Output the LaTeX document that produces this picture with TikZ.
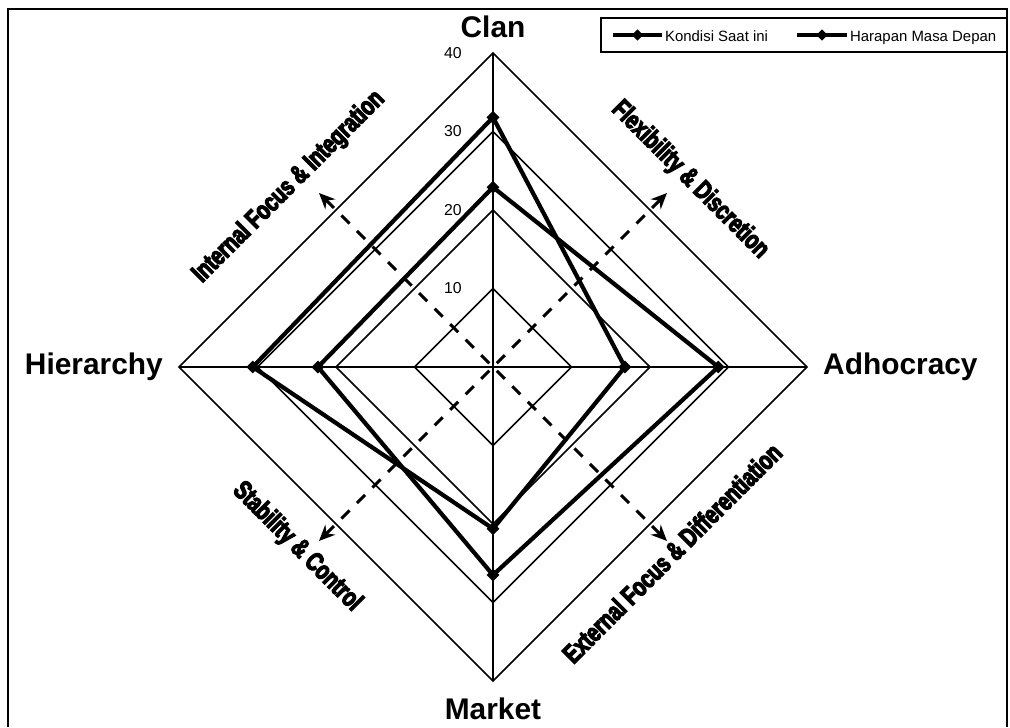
\documentclass[tikz,border=0pt]{standalone}
\usepackage{fontspec}
\setmainfont{Liberation Sans}
\newfontfamily\heavyfont{Liberation Sans}[FakeStretch=0.74,BoldFeatures={FakeBold=4.5}]
\usetikzlibrary{shapes,arrows.meta,positioning}
\tikzstyle{ringline} = [draw, line width=0.9pt]
\tikzstyle{series} = [draw, line width=2.4pt, line join=miter]
\tikzstyle{marker} = [diamond, fill=black, inner sep=0pt, minimum size=7.5pt]
\tikzstyle{axislabel} = [font=\bfseries\fontsize{17}{20}\selectfont]
\tikzstyle{ticklabel} = [anchor=east, font=\fontsize{9}{11}\selectfont]
\tikzstyle{focusarrow} = [draw, line width=1.8pt, dash pattern=on 6.5pt off 6pt,
  {Stealth[length=9pt,width=8pt]}-{Stealth[length=9pt,width=8pt]}]
\tikzstyle{focuslabel} = [font=\heavyfont\bfseries\fontsize{15}{17}\selectfont]
\tikzstyle{legendtext} = [anchor=west, font=\fontsize{8.5}{10}\selectfont, inner sep=1pt,
  text height=1.6ex, text depth=0.3ex]

\begin{document}
\begin{tikzpicture}

   \useasboundingbox (-9.86,-7.2) rectangle (10.34,7.34);
   \draw[line width=0.6pt] (-9.7,-7.2) -- (-9.7,7.16) -- (10.28,7.16) -- (10.28,-7.2);

   \coordinate (o) at (0,0);
   \coordinate (clanend) at (90:6.28);
   \coordinate (adhoend) at (0:6.28);
   \coordinate (marketend) at (-90:6.28);
   \coordinate (hierend) at (180:6.28);

   % Rings of the chart
   \foreach \r in {10,20,30,40}
      \draw[ringline] (90:{\r*0.157}) -- (0:{\r*0.157}) -- (-90:{\r*0.157})
         -- (180:{\r*0.157}) -- cycle;
   \draw[ringline] (clanend) -- (marketend);
   \draw[ringline] (hierend) -- (adhoend);

   \foreach \r in {10,20,30,40}
      \node[ticklabel] (tick\r) at (-0.5,{\r*0.157}) {\r};

   % Axis labels
   \node[axislabel] (clan) [above=0.18cm of clanend] {Clan};
   \node[axislabel] (adhocracy) [right=0.2cm of adhoend] {Adhocracy};
   \node[axislabel] (market) [below=0.22cm of marketend] {Market};
   \node[axislabel] (hierarchy) [left=0.2cm of hierend] {Hierarchy};

   %% Dashed arrows
   \coordinate (ifi) at (135:4.92);
   \coordinate (fd) at (45:4.92);
   \coordinate (sc) at (-135:4.92);
   \coordinate (efd) at (-45:4.92);
   \path[focusarrow] (sc) -- (fd);
   \path[focusarrow] (ifi) -- (efd);

   \node[focuslabel, rotate=45] (lifi) at (-4.08,3.6) {Internal Focus \& Integration};
   \node[focuslabel, rotate=-45] (lfd) at (3.94,3.74) {Flexibility \& Discretion};
   \node[focuslabel, rotate=-45] (lsc) at (-3.92,-3.6) {Stability \& Control};
   \node[focuslabel, rotate=45] (lefd) at (3.58,-3.72) {External Focus \& Differentiation};

   % Kondisi Saat ini
   \foreach \v [count=\i] in {31.8,16.8,20.6,30.6}
      \coordinate (k\i) at ({180-90*\i}:{\v*0.157});
   \path[series] (k1) -- (k2) -- (k3) -- (k4) -- cycle;
   \foreach \i in {1,...,4}
      \node[marker] (km\i) at (k\i) {};

   % Harapan Masa Depan
   \foreach \v [count=\i] in {22.9,28.7,26.5,22.3}
      \coordinate (h\i) at ({180-90*\i}:{\v*0.157});
   \path[series] (h1) -- (h2) -- (h3) -- (h4) -- cycle;
   \foreach \i in {1,...,4}
      \node[marker] (hm\i) at (h\i) {};

   % Legend
   \draw[line width=0.6pt] (2.16,6.3) rectangle (10.28,6.98);
   \coordinate (ka) at (2.4,6.64);
   \coordinate (kb) at (3.38,6.64);
   \path[series, line width=2pt] (ka) -- (kb);
   \node[marker, minimum size=6.5pt] (kleg) at (2.89,6.64) {};
   \node[legendtext] (ktext) at (3.4,6.64) {Kondisi Saat ini};

   \coordinate (ha) at (6.08,6.64);
   \coordinate (hb) at (7.08,6.64);
   \path[series, line width=2pt] (ha) -- (hb);
   \node[marker, minimum size=6.5pt] (hleg) at (6.58,6.64) {};
   \node[legendtext] (htext) at (7.1,6.64) {Harapan Masa Depan};

\end{tikzpicture}
\end{document}
